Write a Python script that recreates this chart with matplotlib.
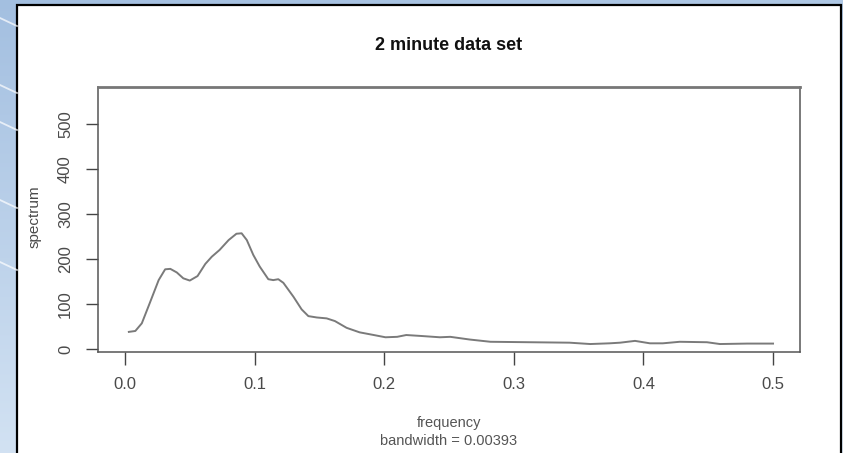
import numpy as np
import matplotlib.pyplot as plt
from matplotlib.patches import Rectangle

# smoothed spectrum
freq = [0.003, 0.008, 0.013, 0.019, 0.026, 0.031, 0.035, 0.040, 0.045, 0.050,
        0.056, 0.062, 0.067, 0.073, 0.080, 0.086, 0.090, 0.094, 0.099, 0.104,
        0.1106, 0.1144, 0.1183, 0.1222, 0.130, 0.1363, 0.1415, 0.148, 0.1556, 0.162,
        0.171, 0.181, 0.192, 0.201, 0.210, 0.217, 0.228, 0.243, 0.251, 0.266,
        0.282, 0.3125, 0.343, 0.359, 0.374, 0.382, 0.3935, 0.405, 0.415, 0.428,
        0.449, 0.459, 0.48, 0.5]
spec = [38, 40, 57, 101, 153, 177, 178, 170, 157, 152,
        162, 189, 205, 220, 242, 256, 257, 242, 209, 183,
        155, 153, 155, 147, 116, 88, 73, 70, 68, 62,
        47, 37, 31, 26, 27, 31, 29, 26, 27, 21,
        16, 15, 14, 11, 12.6, 14, 18, 12.6, 12.6, 16,
        15, 11, 12, 12]

xticks = [0.0, 0.1, 0.2, 0.3, 0.4, 0.5]
xticklabels = ['0.0', '0.1', '0.2', '0.3', '0.4', '0.5']
yticks = [0, 100, 200, 300, 400, 500]

W, H = 843, 453
plt.rcParams['font.family'] = ['Liberation Sans', 'DejaVu Sans']

fig = plt.figure(figsize=(W / 100, H / 100), dpi=100)

# slide background behind the screenshot
bg = fig.add_axes([0, 0, 1, 1])
yy = np.linspace(0, 1, 200)[:, None]
xx = np.linspace(0, 1, 50)[None, :]
top = np.array([0.64, 0.75, 0.88])
bot = np.array([0.87, 0.92, 0.97])
grad = top + (bot - top) * (0.8 * yy + 0.2 * xx)[..., None]
bg.imshow(grad, extent=[0, W, H, 0], aspect='auto')
for y0 in [18, 85, 122, 200, 262]:
    bg.plot([0, 17], [y0, y0 + 8], color='white', lw=1.3, alpha=0.7)
bg.add_patch(Rectangle((17, 5), 824, H, facecolor='white', edgecolor='black', lw=1.6))
bg.set_xlim(0, W)
bg.set_ylim(H, 0)
bg.axis('off')

ax = fig.add_axes([98 / W, 1 - 352 / H, 702 / W, 265 / H])
ax.plot(freq, spec, color='#7a7a7a', lw=1.4)
ax.set_xlim(-0.0208, 0.5208)
ax.set_ylim(-6.7, 582)

ax.set_xticks(xticks)
ax.set_xticklabels(xticklabels)
ax.set_yticks(yticks)
ax.tick_params(axis='both', direction='out', length=9, width=1.0, color='#444',
               labelsize=12, labelcolor='#4a4a4a', pad=9)
for lab in ax.get_yticklabels():
    lab.set_rotation(90)
    lab.set_va('center')
for sp in ax.spines.values():
    sp.set_color('#555')
    sp.set_linewidth(1.1)
ax.spines['top'].set_color('#777')
ax.spines['top'].set_linewidth(2.0)

fig.text(449 / W, 1 - 45 / H, '2 minute data set', ha='center', va='center',
         fontsize=13, fontweight='bold', color='#111')
fig.text(35 / W, 1 - 217 / H, 'spectrum', rotation=90, ha='center', va='center',
         fontsize=11, color='#4a4a4a')
fig.text(449 / W, 1 - 423 / H, 'frequency', ha='center', va='center',
         fontsize=10.5, color='#555')
fig.text(449 / W, 1 - 441 / H, 'bandwidth = 0.00393', ha='center', va='center',
         fontsize=10.5, color='#555')

fig.savefig('out.png', dpi=100)
